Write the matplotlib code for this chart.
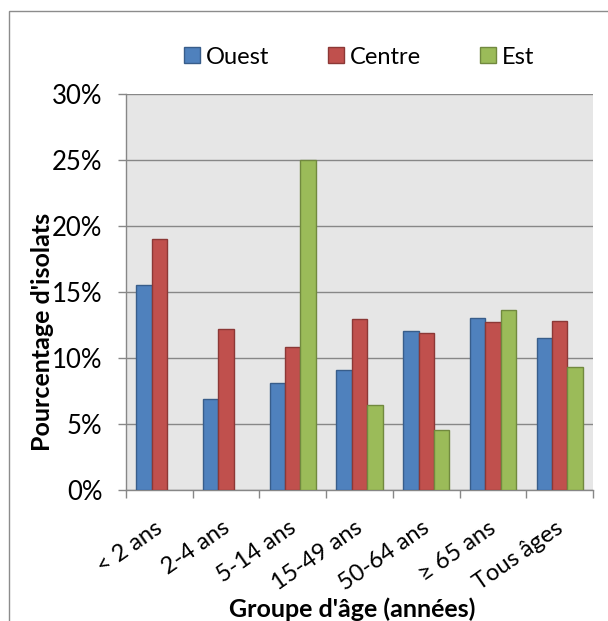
import numpy as np
import matplotlib.pyplot as plt
import matplotlib.patches as mpatches
from matplotlib.ticker import FuncFormatter
from matplotlib.transforms import ScaledTranslation

plt.rcParams['font.family'] = ['Lato', 'DejaVu Sans']

# Data (% of isolates)
groupes = ['< 2 ans', '2-4 ans', '5-14 ans', '15-49 ans', '50-64 ans', '≥ 65 ans', 'Tous âges']
ouest = [15.5, 6.9, 8.1, 9.1, 12.0, 13.0, 11.5]
centre = [19.0, 12.2, 10.8, 12.9, 11.9, 12.7, 12.8]
est = [0, 0, 25.0, 6.4, 4.5, 13.6, 9.3]

series = [('Ouest', ouest, '#4F81BD', '#385D8A'),
          ('Centre', centre, '#C0504D', '#8C3836'),
          ('Est', est, '#9BBB59', '#71893F')]

W, H = 608, 621
fig = plt.figure(figsize=(W / 100, H / 100), dpi=100)
ax = fig.add_axes([126 / W, 1 - 489.5 / H, (593 - 126) / W, (489.5 - 94) / H])
ax.set_facecolor('#E6E6E6')

x = np.arange(len(groupes))
bw = 0.23
for i, (name, vals, fc, ec) in enumerate(series):
    v = np.array(vals, dtype=float)
    v = np.where(v > 0, v, np.nan)
    ax.bar(x + (i - 1) * bw, v, width=bw, color=fc, edgecolor=ec,
           linewidth=1.0, label=name, zorder=3)

ax.set_xlim(-0.5, len(groupes) - 0.5)
ax.set_ylim(0, 30)
ax.set_yticks(np.arange(0, 31, 5))
ax.yaxis.set_major_formatter(FuncFormatter(lambda v, p: f'{v:.0f}%'))
ax.grid(axis='y', color='#878787', linewidth=1.0, zorder=1)
ax.set_axisbelow(True)

for s in ['top', 'right']:
    ax.spines[s].set_visible(False)
for s in ['left', 'bottom']:
    ax.spines[s].set_color('#878787')
    ax.spines[s].set_linewidth(1.0)

ax.tick_params(axis='y', length=6, width=1.0, color='#878787', pad=11,
               labelsize=18.5)
ax.set_xticks(x)
ax.set_xticklabels(groupes, rotation=35, ha='right', rotation_mode='anchor')
ax.tick_params(axis='x', which='major', length=0, pad=20, labelsize=17)
ax.set_xticks(np.arange(-0.5, len(groupes), 1), minor=True)
ax.tick_params(axis='x', which='minor', length=6, width=1.0, color='#878787')
shift = ScaledTranslation(-5 / 100, 0, fig.dpi_scale_trans)
for lab in ax.get_xticklabels():
    lab.set_transform(lab.get_transform() + shift)

ax.set_ylabel("Pourcentage d'isolats", fontsize=18, fontweight='bold')
ax.yaxis.set_label_coords((43 - 126) / 467, (489.5 - 332) / 395.5)
ax.yaxis.label.set_va('center')
ax.set_xlabel("Groupe d'âge (années)", fontsize=18, fontweight='bold')
ax.xaxis.set_label_coords((352 - 126) / 467, -(609 - 489.5) / 395.5)
ax.xaxis.label.set_va('center')

fig.legend(loc='center', bbox_to_anchor=(359 / W, 1 - 57 / H), ncol=3,
           frameon=False, fontsize=17, handlelength=0.68, handleheight=0.68,
           handletextpad=0.25, columnspacing=2.5)

# outer chart border (only left and top visible in the crop)
fig.patches.append(mpatches.Rectangle((8.5 / W, -0.1), 1.2, 1 - 11 / H + 0.1,
                                      transform=fig.transFigure, fill=False,
                                      edgecolor='#8C8C8C', linewidth=1.0))

fig.savefig('out.png', dpi=100)
